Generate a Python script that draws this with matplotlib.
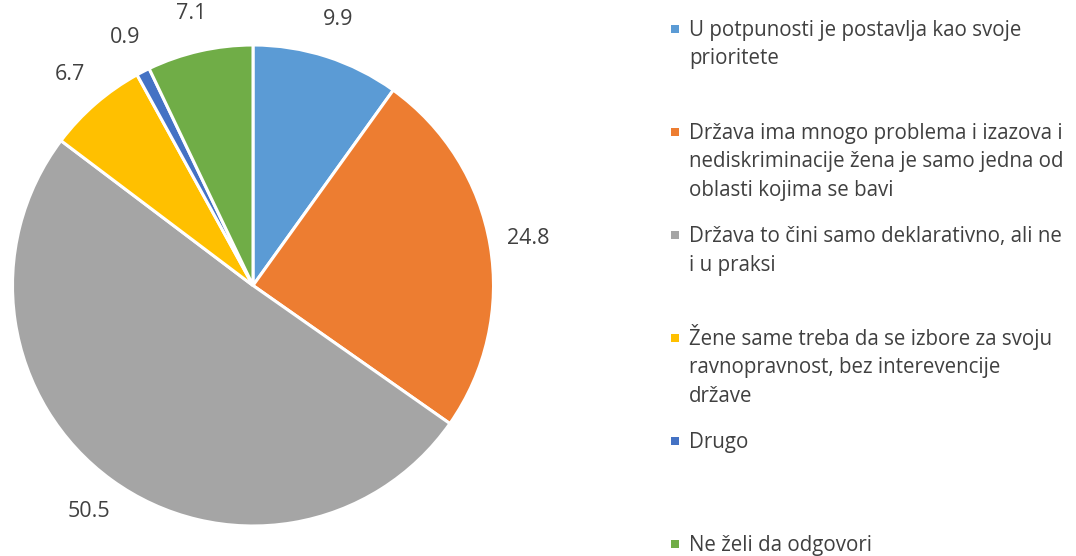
import numpy as np
import matplotlib
matplotlib.use("Agg")
import matplotlib.pyplot as plt
from matplotlib.patches import Rectangle

categories = [
    "U potpunosti je postavlja kao svoje\nprioritete",
    "Država ima mnogo problema i izazova i\nnediskriminacije žena je samo jedna od\noblasti kojima se bavi",
    "Država to čini samo deklarativno, ali ne\ni u praksi",
    "Žene same treba da se izbore za svoju\nravnopravnost, bez interevencije\ndržave",
    "Drugo",
    "Ne želi da odgovori",
]
values = [9.9, 24.8, 50.5, 6.7, 0.9, 7.1]
value_labels = ["9.9", "24.8", "50.5", "6.7", "0.9", "7.1"]
colors = ["#5B9BD5", "#ED7D31", "#A5A5A5", "#FFC000", "#4472C4", "#70AD47"]

W, H = 1076, 556
DPI = 100
FONT = "Open Sans"
TXT = "#404040"

fig = plt.figure(figsize=(W / DPI, H / DPI), dpi=DPI)
fig.patch.set_facecolor("white")

cx, cy, R = 253, 285.5, 240.5
ax = fig.add_axes([(cx - R) / W, (H - cy - R) / H, 2 * R / W, 2 * R / H])
wedges, _ = ax.pie(values, colors=colors, startangle=90, counterclock=False,
                   radius=1.0, wedgeprops=dict(edgecolor="white", linewidth=2.2))
ax.set_xlim(-1, 1)
ax.set_ylim(-1, 1)
ax.set_aspect("equal")
ax.axis("off")

# data labels outside end
for w, lab in zip(wedges, value_labels):
    ang = np.deg2rad((w.theta1 + w.theta2) / 2)
    d = 1.16
    ax.text(d * np.cos(ang), d * np.sin(ang), lab, ha="center", va="center",
            fontsize=15.5, color=TXT, family=FONT, clip_on=False)

# legend
lx_marker, lx_text = 675, 689
y0, step, lh = 29, 103, 28.5
for i, (lab, col) in enumerate(zip(categories, colors)):
    yc = y0 + i * step
    fig.patches.append(Rectangle(((lx_marker - 4) / W, (H - yc - 4) / H), 8 / W, 8 / H,
                                 transform=fig.transFigure, facecolor=col, edgecolor="none"))
    for j, line in enumerate(lab.split("\n")):
        yl = yc + j * lh
        fig.text(lx_text / W, (H - yl - 7) / H, line, ha="left", va="baseline",
                 fontsize=14.8, color=TXT, family=FONT)

fig.savefig("out.png", dpi=DPI, facecolor="white")
